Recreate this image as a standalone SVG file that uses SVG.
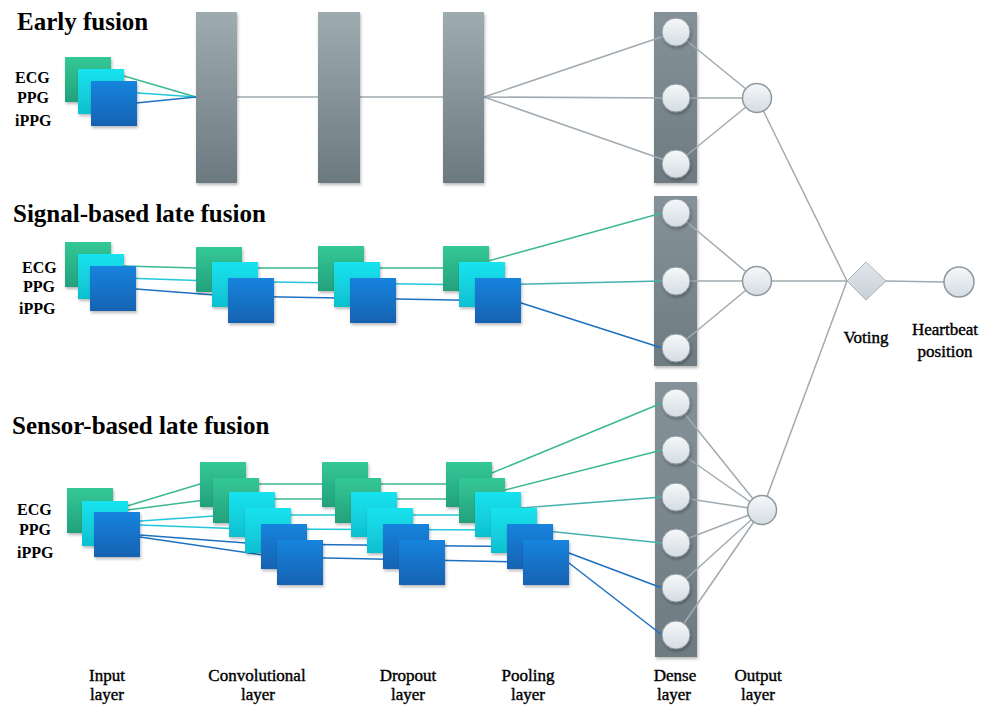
<svg xmlns="http://www.w3.org/2000/svg" xmlns:xlink="http://www.w3.org/1999/xlink" width="995" height="706" viewBox="0 0 995 706">
<defs>
  <linearGradient id="gG" x1="0" y1="0" x2="0" y2="1"><stop offset="0" stop-color="#34c897"/><stop offset="1" stop-color="#23a17b"/></linearGradient>
  <linearGradient id="gC" x1="0" y1="0" x2="0" y2="1"><stop offset="0" stop-color="#16e3ef"/><stop offset="1" stop-color="#10bfcf"/></linearGradient>
  <linearGradient id="gB" x1="0" y1="0" x2="0" y2="1"><stop offset="0" stop-color="#1784de"/><stop offset="1" stop-color="#1262b2"/></linearGradient>
  <linearGradient id="gBar" x1="0" y1="0" x2="0" y2="1"><stop offset="0" stop-color="#9eabb1"/><stop offset="1" stop-color="#6c7980"/></linearGradient>
  <linearGradient id="gDense" x1="0" y1="0" x2="0" y2="1"><stop offset="0" stop-color="#85929a"/><stop offset="1" stop-color="#6e7b82"/></linearGradient>
  <linearGradient id="gNode" x1="0" y1="0" x2="0" y2="1"><stop offset="0" stop-color="#f6f8fa"/><stop offset="1" stop-color="#d4dce2"/></linearGradient>
  <linearGradient id="gDia" x1="0" y1="0" x2="0" y2="1"><stop offset="0" stop-color="#e2e7eb"/><stop offset="1" stop-color="#c8d0d6"/></linearGradient>
  <filter id="sh" x="-20%" y="-20%" width="150%" height="150%">
    <feDropShadow dx="1" dy="2" stdDeviation="1.5" flood-color="#000" flood-opacity="0.28"/>
  </filter>
  <rect id="sqG" width="46" height="45" fill="url(#gG)" filter="url(#sh)"/>
  <rect id="sqC" width="46" height="45" fill="url(#gC)" filter="url(#sh)"/>
  <rect id="sqB" width="46" height="45" fill="url(#gB)" filter="url(#sh)"/>
  <circle id="unit" r="14" fill="url(#gNode)" stroke="#8c979e" stroke-width="1" filter="url(#sh)"/>
  <style>
    .title{font-family:"Liberation Serif","Times New Roman",serif;font-weight:bold;font-size:25px;fill:#000}
    .sig{font-family:"Liberation Serif","Times New Roman",serif;font-weight:bold;font-size:16px;fill:#000}
    .lbl{font-family:"Liberation Serif","Times New Roman",serif;font-size:17px;fill:#000;text-anchor:middle;stroke:#000;stroke-width:0.4}
    .bar{fill:url(#gBar);filter:url(#sh)}
    .dense{fill:url(#gDense);filter:url(#sh)}
    .out{fill:url(#gNode);stroke:#8e989f;stroke-width:1.5}
    .cg{stroke:#3bb993;stroke-width:1.5;fill:none}
    .cc{stroke:#22c8da;stroke-width:1.5;fill:none}
    .ct{stroke:#45b2ad;stroke-width:1.5;fill:none}
    .cb{stroke:#1d70c0;stroke-width:1.5;fill:none}
    .gr{stroke:#a2abb1;stroke-width:1.5;fill:none}
  </style>
</defs>
<rect width="995" height="706" fill="#ffffff"/>

<!-- dense layer bars (behind connectors) -->
<g id="early-dense"><rect class="dense" x="654" y="12" width="43" height="171"/></g>
<g id="signal-dense"><rect class="dense" x="654" y="196" width="43" height="170"/></g>
<g id="sensor-dense"><rect class="dense" x="655" y="382" width="42" height="275"/></g>

<g id="connectors">
  <!-- early fusion -->
  <line class="cg" x1="124" y1="76" x2="196" y2="97"/>
  <line class="cc" x1="124" y1="92" x2="196" y2="97"/>
  <line class="cb" x1="136" y1="103" x2="196" y2="97"/>
  <line class="gr" x1="237" y1="97" x2="318" y2="97"/>
  <line class="gr" x1="360" y1="97" x2="443" y2="97"/>
  <line class="gr" x1="484" y1="97" x2="676" y2="32"/>
  <line class="gr" x1="484" y1="97" x2="676" y2="98"/>
  <line class="gr" x1="484" y1="97" x2="676" y2="164"/>
  <line class="gr" x1="676" y1="32" x2="757" y2="98"/>
  <line class="gr" x1="676" y1="98" x2="757" y2="98"/>
  <line class="gr" x1="676" y1="164" x2="757" y2="98"/>
  <line class="gr" x1="757" y1="98" x2="847" y2="281"/>
  <!-- signal-based -->
  <polyline class="cg" points="124,266 196,268 463,268"/>
  <polyline class="cc" points="124,278 212,281 480,285"/>
  <polyline class="cb" points="136,289 228,296 515,301"/>
  <line class="cg" x1="463" y1="268" x2="662" y2="213"/>
  <line class="ct" x1="480" y1="285" x2="662" y2="281"/>
  <line class="cb" x1="515" y1="301" x2="662" y2="348"/>
  <line class="gr" x1="676" y1="213" x2="757" y2="281"/>
  <line class="gr" x1="676" y1="281" x2="757" y2="281"/>
  <line class="gr" x1="676" y1="348" x2="757" y2="281"/>
  <line class="gr" x1="757" y1="281" x2="847" y2="281"/>
  <!-- sensor-based -->
  <polyline class="cg" points="127,506 200,484 465,484"/>
  <polyline class="cg" points="127,510 213,499 470,499"/>
  <polyline class="cc" points="140,521 229,515 498,515 521,508"/>
  <polyline class="cc" points="140,525 245,529 537,530"/>
  <polyline class="cb" points="140,535 261,544 553,547"/>
  <polyline class="cb" points="140,537 277,557 569,563"/>
  <line class="cg" x1="465" y1="484" x2="662" y2="403"/>
  <line class="cg" x1="470" y1="499" x2="662" y2="450"/>
  <line class="ct" x1="521" y1="508" x2="662" y2="497"/>
  <line class="ct" x1="537" y1="530" x2="662" y2="543"/>
  <line class="cb" x1="553" y1="547" x2="662" y2="588"/>
  <line class="cb" x1="569" y1="563" x2="662" y2="635"/>
  <line class="gr" x1="676" y1="403" x2="762" y2="510"/>
  <line class="gr" x1="676" y1="450" x2="762" y2="510"/>
  <line class="gr" x1="676" y1="497" x2="762" y2="510"/>
  <line class="gr" x1="676" y1="543" x2="762" y2="510"/>
  <line class="gr" x1="676" y1="588" x2="762" y2="510"/>
  <line class="gr" x1="676" y1="635" x2="762" y2="510"/>
  <line class="gr" x1="762" y1="510" x2="847" y2="281"/>
  <!-- voting to output -->
  <line class="gr" x1="886" y1="281" x2="944" y2="282"/>
</g>

<!-- Early fusion -->
<g id="early-title"><text class="title" x="17" y="30">Early fusion</text></g>
<g id="early-input">
  <use href="#sqG" x="65" y="57"/>
  <use href="#sqC" x="78" y="69"/>
  <use href="#sqB" x="91" y="81"/>
  <text class="sig" x="15" y="83">ECG</text>
  <text class="sig" x="17" y="103">PPG</text>
  <text class="sig" x="15" y="126">iPPG</text>
</g>
<g id="early-conv"><rect class="bar" x="196" y="12" width="41" height="171"/></g>
<g id="early-dropout"><rect class="bar" x="318" y="12" width="42" height="171"/></g>
<g id="early-pool"><rect class="bar" x="443" y="12" width="41" height="171"/></g>
<g id="early-dense-units">
  <use href="#unit" x="676" y="32"/>
  <use href="#unit" x="676" y="98"/>
  <use href="#unit" x="676" y="164"/>
</g>
<g id="early-out"><circle class="out" cx="757" cy="98" r="14.5"/></g>

<!-- Signal-based late fusion -->
<g id="signal-title"><text class="title" x="13" y="222">Signal-based late fusion</text></g>
<g id="signal-input">
  <use href="#sqG" x="65" y="242"/>
  <use href="#sqC" x="78" y="254"/>
  <use href="#sqB" x="90" y="266"/>
  <text class="sig" x="22" y="273">ECG</text>
  <text class="sig" x="23" y="292">PPG</text>
  <text class="sig" x="19" y="314">iPPG</text>
</g>
<g id="signal-conv">
  <use href="#sqG" x="196" y="247"/>
  <use href="#sqC" x="212" y="262"/>
  <use href="#sqB" x="228" y="278"/>
</g>
<g id="signal-dropout">
  <use href="#sqG" x="318" y="246"/>
  <use href="#sqC" x="334" y="262"/>
  <use href="#sqB" x="350" y="278"/>
</g>
<g id="signal-pool">
  <use href="#sqG" x="443" y="246"/>
  <use href="#sqC" x="459" y="262"/>
  <use href="#sqB" x="475" y="278"/>
</g>
<g id="signal-dense-units">
  <use href="#unit" x="676" y="213"/>
  <use href="#unit" x="676" y="281"/>
  <use href="#unit" x="676" y="348"/>
</g>
<g id="signal-out"><circle class="out" cx="757" cy="281" r="14.5"/></g>

<!-- Sensor-based late fusion -->
<g id="sensor-title"><text class="title" x="12" y="434">Sensor-based late fusion</text></g>
<g id="sensor-input">
  <use href="#sqG" x="67" y="488"/>
  <use href="#sqC" x="82" y="501"/>
  <use href="#sqB" x="94" y="512"/>
  <text class="sig" x="17" y="515">ECG</text>
  <text class="sig" x="19" y="535">PPG</text>
  <text class="sig" x="17" y="558">iPPG</text>
</g>
<g id="sensor-conv">
  <use href="#sqG" x="200" y="462"/>
  <use href="#sqG" x="213" y="478"/>
  <use href="#sqC" x="229" y="492"/>
  <use href="#sqC" x="245" y="508"/>
  <use href="#sqB" x="261" y="524"/>
  <use href="#sqB" x="277" y="540"/>
</g>
<g id="sensor-dropout">
  <use href="#sqG" x="322" y="462"/>
  <use href="#sqG" x="335" y="478"/>
  <use href="#sqC" x="351" y="492"/>
  <use href="#sqC" x="367" y="508"/>
  <use href="#sqB" x="383" y="524"/>
  <use href="#sqB" x="399" y="540"/>
</g>
<g id="sensor-pool">
  <use href="#sqG" x="446" y="462"/>
  <use href="#sqG" x="459" y="478"/>
  <use href="#sqC" x="475" y="492"/>
  <use href="#sqC" x="491" y="508"/>
  <use href="#sqB" x="507" y="524"/>
  <use href="#sqB" x="523" y="540"/>
</g>
<g id="sensor-dense-units">
  <use href="#unit" x="676" y="403"/>
  <use href="#unit" x="676" y="450"/>
  <use href="#unit" x="676" y="497"/>
  <use href="#unit" x="676" y="543"/>
  <use href="#unit" x="676" y="588"/>
  <use href="#unit" x="676" y="635"/>
</g>
<g id="sensor-out"><circle class="out" cx="762" cy="510" r="14.5"/></g>

<!-- Voting and result -->
<g id="voting">
  <polygon points="866,262 886,281 866,300 847,281" fill="url(#gDia)" stroke="#aab3b9" stroke-width="1"/>
  <text class="lbl" x="866" y="343">Voting</text>
</g>
<g id="heartbeat">
  <circle class="out" cx="959" cy="282" r="15"/>
  <text class="lbl" x="945" y="335">Heartbeat</text>
  <text class="lbl" x="945" y="357">position</text>
</g>

<!-- Layer labels -->
<g id="layer-labels">
  <text class="lbl" x="107" y="681">Input</text><text class="lbl" x="107" y="700">layer</text>
  <text class="lbl" x="257" y="681">Convolutional</text><text class="lbl" x="258" y="700">layer</text>
  <text class="lbl" x="408" y="681">Dropout</text><text class="lbl" x="408" y="700">layer</text>
  <text class="lbl" x="528" y="681">Pooling</text><text class="lbl" x="528" y="700">layer</text>
  <text class="lbl" x="675" y="681">Dense</text><text class="lbl" x="674" y="700">layer</text>
  <text class="lbl" x="758" y="681">Output</text><text class="lbl" x="758" y="700">layer</text>
</g>
</svg>
